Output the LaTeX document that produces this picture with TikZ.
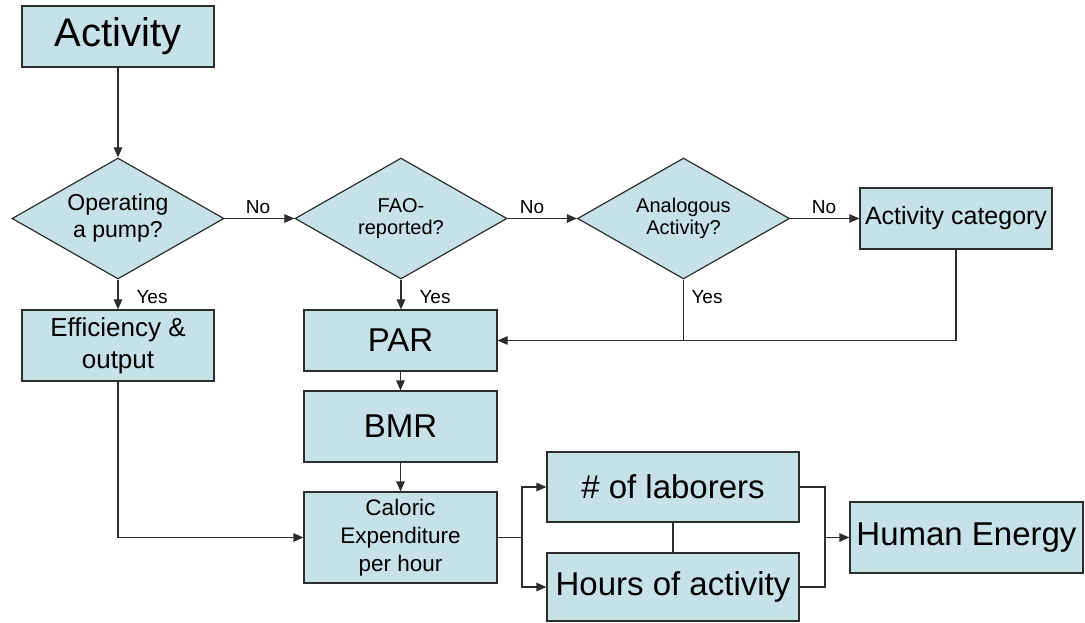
\documentclass[tikz,border=0pt]{standalone}
\usepackage{fontspec}
\setmainfont{Liberation Sans}
\usetikzlibrary{shapes.geometric,arrows.meta}
\definecolor{boxfill}{RGB}{198,226,230}
\definecolor{edgecol}{RGB}{45,45,45}
\tikzset{
  box/.style={draw=edgecol, fill=boxfill, line width=1.2pt, inner sep=0pt, align=center},
  dia/.style={diamond, draw=edgecol, fill=boxfill, line width=1.2pt, inner sep=0pt,
              minimum width=212pt, minimum height=121pt},
  diatext/.style={inner sep=0pt, align=center},
  conn/.style={draw=edgecol, line width=1.2pt},
  arr/.style={conn, -{Triangle[length=10pt,width=8.5pt]}},
  lbl/.style={font=\fontsize{19}{22}\selectfont, inner sep=0pt}
}
\begin{document}
\begin{tikzpicture}[x=1pt,y=-1pt]
\useasboundingbox (0,0) rectangle (1085,623);
% boxes
\node[box, minimum width=192pt, minimum height=61pt, font=\fontsize{40}{46}\selectfont] (act) at (118,36.5) {Activity};
\node[dia] (d1) at (118,218.5) {};
\node[diatext, font=\fontsize{23}{27}\selectfont] (d1t) at (d1.center) {Operating\\a pump?};
\node[dia] (d2) at (401,218.5) {};
\node[diatext, font=\fontsize{20}{22.5}\selectfont] (d2t) at (d2.center) {FAO-\\reported?};
\node[dia] (d3) at (683.5,218.5) {};
\node[diatext, font=\fontsize{20}{22.5}\selectfont] (d3t) at (d3.center) {Analogous\\Activity?};
\node[box, minimum width=192pt, minimum height=61pt, font=\fontsize{25}{30}\selectfont] (cat) at (956,218.5) {Activity category};
\node[box, minimum width=192pt, minimum height=71pt, font=\fontsize{26}{32}\selectfont] (eff) at (118,345.5) {Efficiency \&\\output};
\node[box, minimum width=193pt, minimum height=61pt, font=\fontsize{33}{38}\selectfont] (par) at (400.5,340.5) {PAR};
\node[box, minimum width=193pt, minimum height=71pt, font=\fontsize{33}{38}\selectfont] (bmr) at (400.5,426.5) {BMR};
\node[box, minimum width=193pt, minimum height=91pt, font=\fontsize{22.5}{28}\selectfont] (cal) at (400.5,537.5) {Caloric\\Expenditure\\per hour};
\node[box, minimum width=252pt, minimum height=70pt, font=\fontsize{33}{38}\selectfont] (lab) at (673,487) {\# of laborers};
\node[box, minimum width=252pt, minimum height=68pt, font=\fontsize{33}{38}\selectfont] (hrs) at (673,587) {Hours of activity};
\node[box, minimum width=233pt, minimum height=71pt, font=\fontsize{33}{38}\selectfont] (he) at (966.5,537.5) {Human Energy};
% labels
\node[lbl] (no1) at (258,207) {No};
\node[lbl] (no2) at (532,207) {No};
\node[lbl] (no3) at (824,207) {No};
\node[lbl] (yes1) at (152,297) {Yes};
\node[lbl] (yes2) at (435,297) {Yes};
\node[lbl] (yes3) at (707,297) {Yes};
% junctions
\coordinate (jl) at (522,537.5);
\coordinate (jr) at (825,537.5);
% connectors
\draw[arr] (act) -- (d1);
\draw[arr] (d1) -- (d2);
\draw[arr] (d2) -- (d3);
\draw[arr] (d3) -- (cat);
\draw[arr] (d1) -- (eff);
\draw[arr] (d2.south) -- (d2.south |- par.north);
\draw[conn] (d3.south) -- (d3.south |- par.east);
\draw[arr] (cat.south) |- (par.east);
\draw[arr] (par) -- (bmr);
\draw[arr] (bmr) -- (cal);
\draw[arr] (eff.south) |- (cal.west);
\draw[conn] (cal.east) -- (jl);
\draw[arr] (jl) |- (lab.west);
\draw[arr] (jl) |- (hrs.west);
\draw[conn] (lab) -- (hrs);
\draw[conn] (lab.east) -| (jr);
\draw[conn] (hrs.east) -| (jr);
\draw[arr] (jr) -- (he.west);
\end{tikzpicture}
\end{document}
